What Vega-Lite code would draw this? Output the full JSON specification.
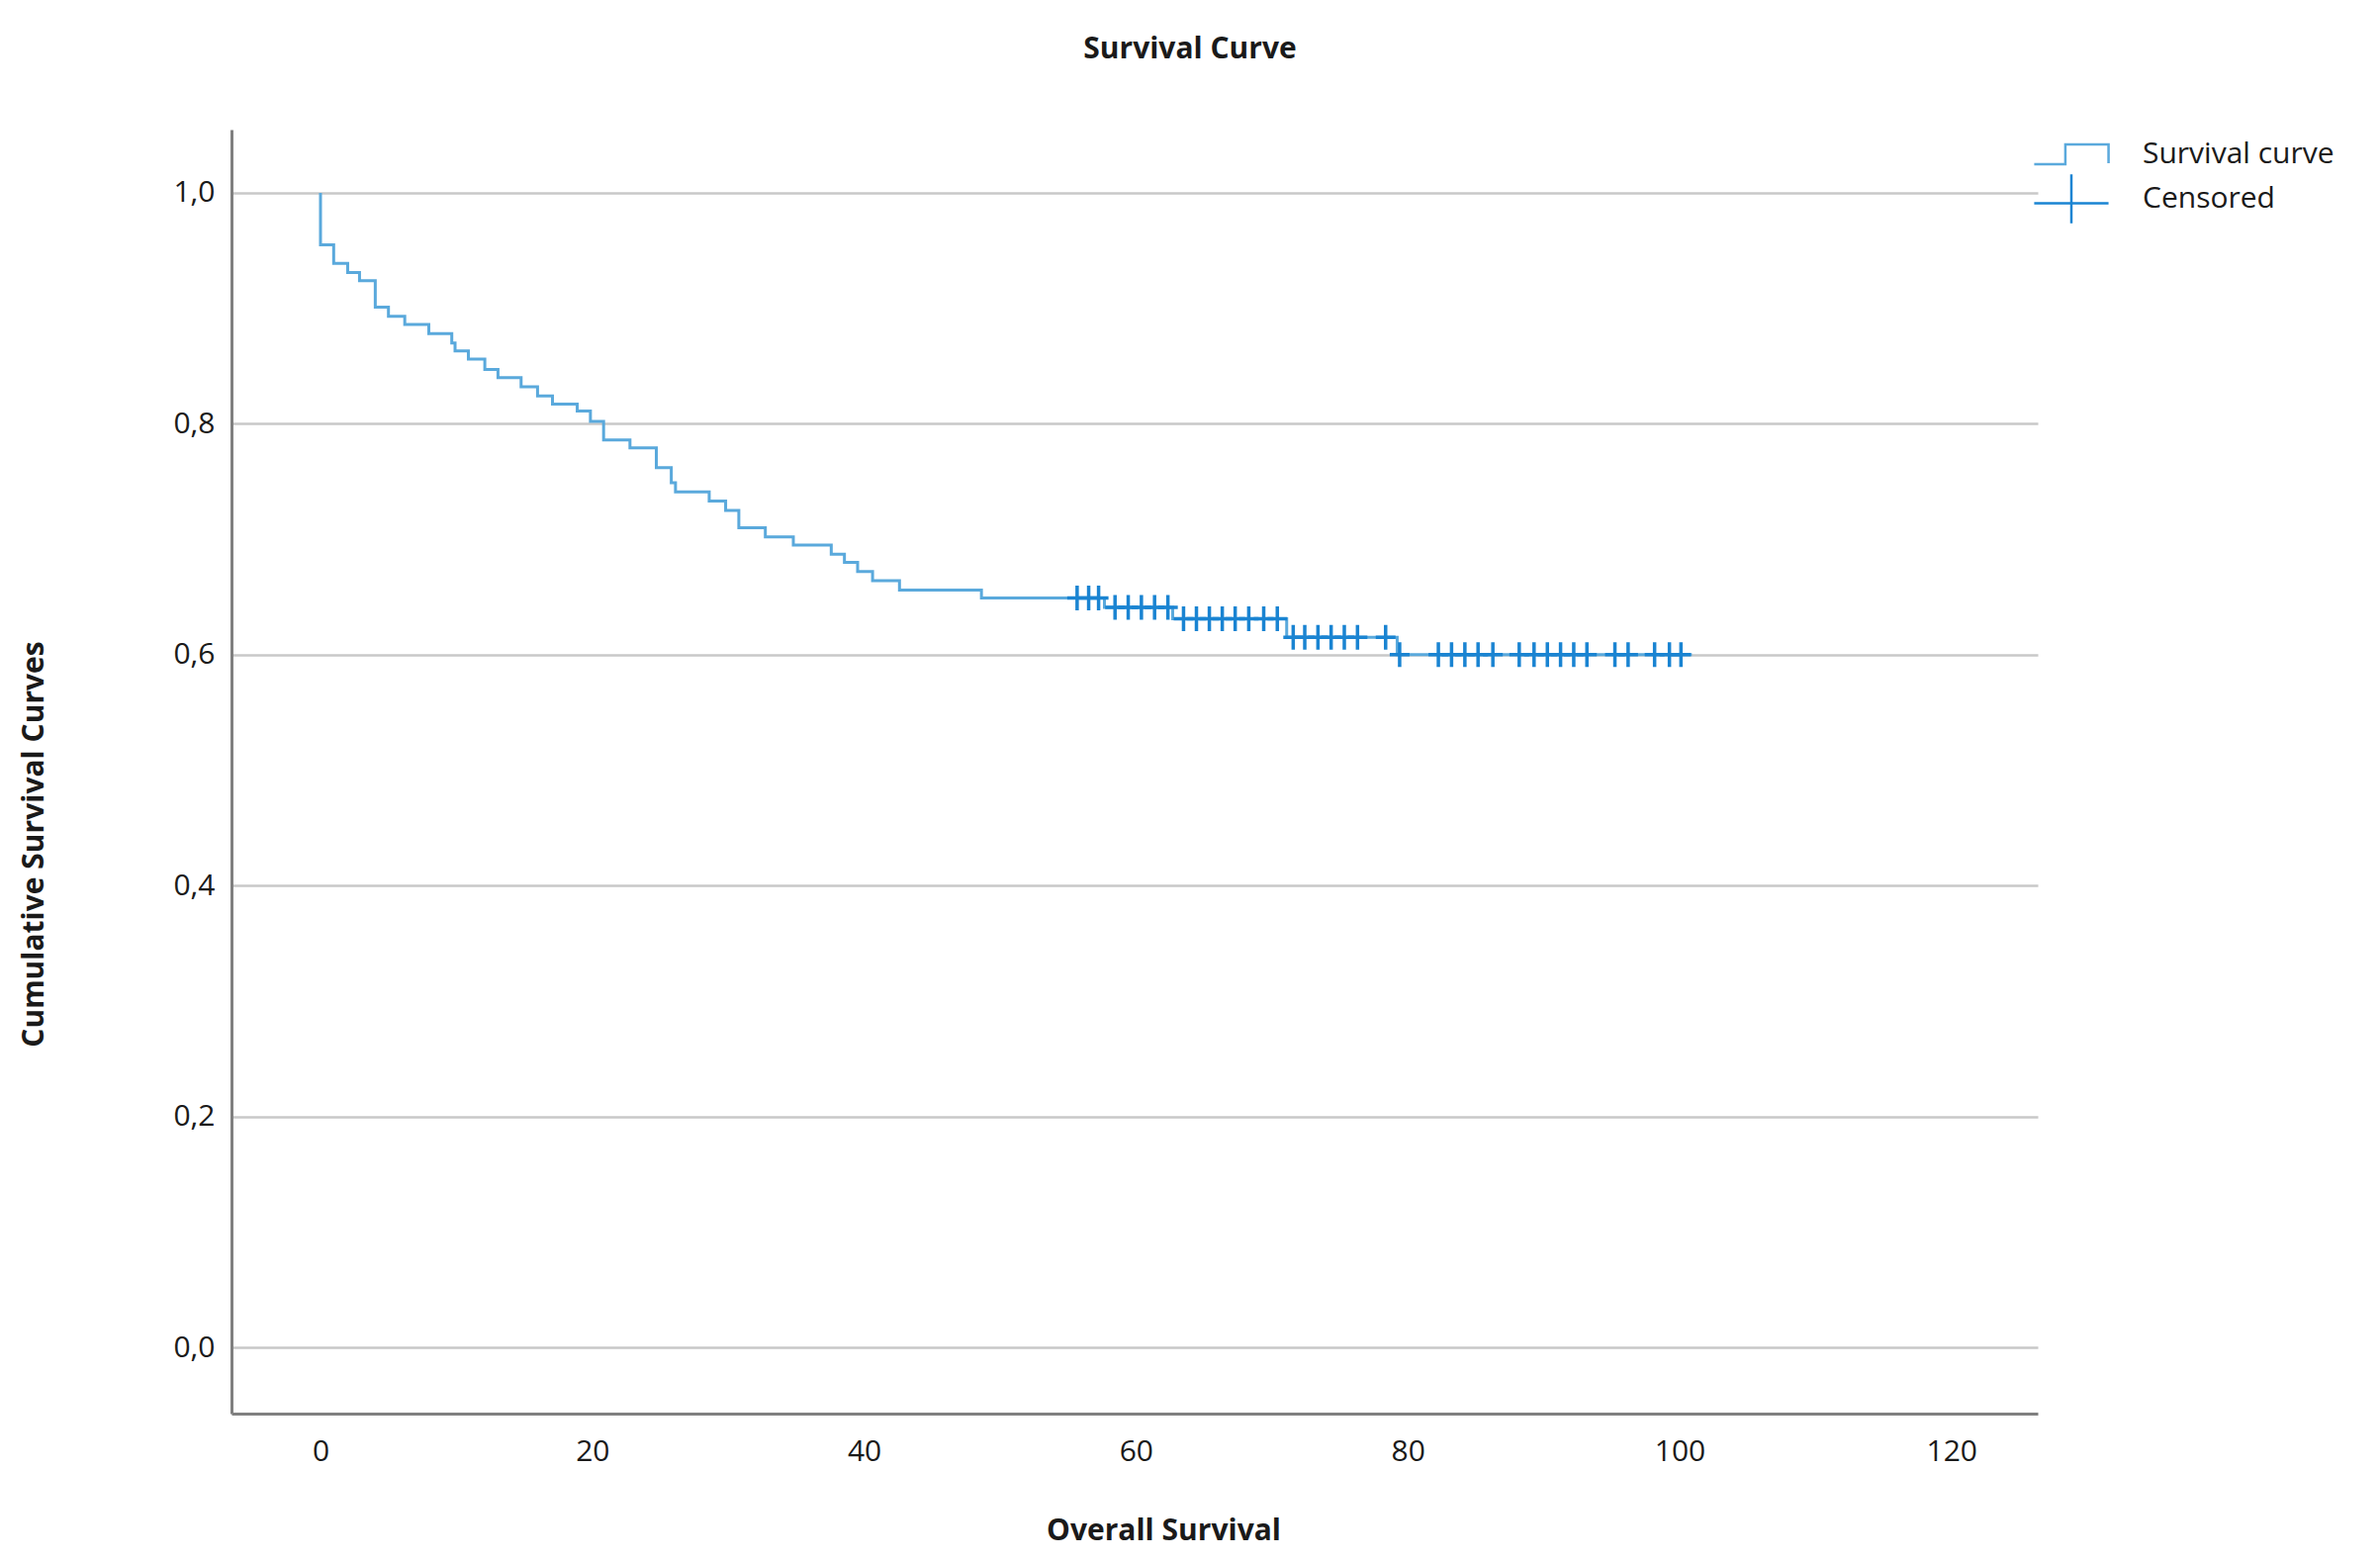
{
  "$schema": "https://vega.github.io/schema/vega-lite/v6.json",
  "width": 1826,
  "height": 1298,
  "autosize": {"type": "none"},
  "padding": {"left": 234, "top": 131, "right": 346, "bottom": 148},
  "background": "white",
  "title": {
    "text": "Survival Curve",
    "font": "Open Sans",
    "fontSize": 30,
    "fontWeight": "bold",
    "color": "#1a1a1a",
    "anchor": "middle",
    "frame": "group",
    "dx": 56,
    "offset": 66
  },
  "datasets": {
    "steps": [
      {"t": 0, "s": 1.0},
      {"t": 0, "s": 0.955},
      {"t": 0.97, "s": 0.939},
      {"t": 2.0, "s": 0.931},
      {"t": 2.87, "s": 0.924},
      {"t": 4.03, "s": 0.901},
      {"t": 5.0, "s": 0.893},
      {"t": 6.2, "s": 0.886},
      {"t": 7.97, "s": 0.878},
      {"t": 9.66, "s": 0.870},
      {"t": 9.9, "s": 0.863},
      {"t": 10.88, "s": 0.856},
      {"t": 12.09, "s": 0.847},
      {"t": 13.06, "s": 0.840},
      {"t": 14.76, "s": 0.832},
      {"t": 15.97, "s": 0.824},
      {"t": 17.07, "s": 0.817},
      {"t": 18.89, "s": 0.811},
      {"t": 19.86, "s": 0.802},
      {"t": 20.83, "s": 0.786},
      {"t": 22.77, "s": 0.779},
      {"t": 24.71, "s": 0.762},
      {"t": 25.81, "s": 0.749},
      {"t": 26.12, "s": 0.741},
      {"t": 28.6, "s": 0.733},
      {"t": 29.81, "s": 0.725},
      {"t": 30.78, "s": 0.710},
      {"t": 32.73, "s": 0.702},
      {"t": 34.79, "s": 0.695},
      {"t": 37.58, "s": 0.687},
      {"t": 38.55, "s": 0.680},
      {"t": 39.52, "s": 0.672},
      {"t": 40.62, "s": 0.664},
      {"t": 42.6, "s": 0.656},
      {"t": 48.63, "s": 0.649},
      {"t": 57.68, "s": 0.641},
      {"t": 62.7, "s": 0.631},
      {"t": 71.09, "s": 0.615},
      {"t": 79.22, "s": 0.600},
      {"t": 100.9, "s": 0.600}
    ],
    "censored": [
      {"t": 55.67, "s": 0.649},
      {"t": 56.52, "s": 0.649},
      {"t": 57.25, "s": 0.649},
      {"t": 58.46, "s": 0.641},
      {"t": 59.43, "s": 0.641},
      {"t": 60.4, "s": 0.641},
      {"t": 61.37, "s": 0.641},
      {"t": 62.35, "s": 0.641},
      {"t": 63.5, "s": 0.631},
      {"t": 64.45, "s": 0.631},
      {"t": 65.4, "s": 0.631},
      {"t": 66.35, "s": 0.631},
      {"t": 67.3, "s": 0.631},
      {"t": 68.3, "s": 0.631},
      {"t": 69.4, "s": 0.631},
      {"t": 70.4, "s": 0.631},
      {"t": 71.57, "s": 0.615},
      {"t": 72.42, "s": 0.615},
      {"t": 73.39, "s": 0.615},
      {"t": 74.36, "s": 0.615},
      {"t": 75.33, "s": 0.615},
      {"t": 76.3, "s": 0.615},
      {"t": 78.37, "s": 0.615},
      {"t": 79.4, "s": 0.600},
      {"t": 82.25, "s": 0.600},
      {"t": 83.22, "s": 0.600},
      {"t": 84.2, "s": 0.600},
      {"t": 85.17, "s": 0.600},
      {"t": 86.26, "s": 0.600},
      {"t": 88.2, "s": 0.600},
      {"t": 89.29, "s": 0.600},
      {"t": 90.27, "s": 0.600},
      {"t": 91.24, "s": 0.600},
      {"t": 92.21, "s": 0.600},
      {"t": 93.18, "s": 0.600},
      {"t": 95.24, "s": 0.600},
      {"t": 96.21, "s": 0.600},
      {"t": 98.16, "s": 0.600},
      {"t": 99.25, "s": 0.600},
      {"t": 100.1, "s": 0.600}
    ]
  },
  "encoding": {
    "x": {
      "field": "t",
      "type": "quantitative",
      "scale": {"domain": [-6.55, 126.35], "nice": false, "zero": false},
      "axis": {
        "title": "Overall Survival",
        "values": [0, 20, 40, 60, 80, 100, 120],
        "grid": false,
        "ticks": false,
        "tickSize": 0,
        "labelPadding": 38,
        "labelBaseline": "middle",
        "labelFont": "Open Sans",
        "labelFontSize": 30,
        "labelColor": "#1a1a1a",
        "domainColor": "#808080",
        "domainWidth": 3,
        "titleFont": "Open Sans",
        "titleFontSize": 30,
        "titleFontWeight": "bold",
        "titleColor": "#1a1a1a",
        "titleX": 942,
        "titleY": 118,
        "titleBaseline": "middle",
        "titleAlign": "center"
      }
    },
    "y": {
      "field": "s",
      "type": "quantitative",
      "scale": {"domain": [-0.0574, 1.0548], "nice": false, "zero": false},
      "axis": {
        "title": "Cumulative Survival Curves",
        "values": [0, 0.2, 0.4, 0.6, 0.8, 1.0],
        "format": ".1f",
        "labelExpr": "replace(datum.label, '.', ',')",
        "grid": true,
        "gridColor": "#c8c8c8",
        "gridWidth": 2.5,
        "ticks": false,
        "tickSize": 0,
        "labelPadding": 17,
        "labelFont": "Open Sans",
        "labelFontSize": 30,
        "labelColor": "#1a1a1a",
        "domainColor": "#808080",
        "domainWidth": 3,
        "titleFont": "Open Sans",
        "titleFontSize": 30,
        "titleFontWeight": "bold",
        "titleColor": "#1a1a1a",
        "titleX": -200,
        "titleY": 722,
        "titleAngle": -90,
        "titleBaseline": "middle",
        "titleAlign": "center"
      }
    }
  },
  "layer": [
    {
      "data": {"name": "steps"},
      "mark": {"type": "line", "interpolate": "step-after", "strokeWidth": 3},
      "encoding": {
        "color": {
          "datum": "Survival curve",
          "scale": {"domain": ["Survival curve", "Censored"], "range": ["#5aa9dc", "#1a84d2"]},
          "legend": {
            "title": null,
            "orient": "none",
            "legendX": 1836,
            "legendY": 1,
            "padding": 0,
            "rowPadding": 0,
            "symbolSize": 2025,
            "labelOffset": 48,
            "labelLimit": 0,
            "labelFont": "Open Sans",
            "labelFontSize": 30,
            "labelColor": "#1a1a1a",
            "encode": {
              "symbols": {
                "update": {
                  "shape": {"signal": "datum.value === 'Censored' ? 'M-1.67,0.2H1.67M0,-1.1V1.1' : 'M-1.67,0.44H-0.27V-0.44H1.67V0.4'"},
                  "fill": {"value": "transparent"},
                  "fillOpacity": {"value": 0},
                  "stroke": {"scale": "color", "field": "value"},
                  "strokeWidth": {"value": 2.5},
                  "size": {"value": 2025},
                  "opacity": {"value": 1}
                }
              }
            }
          }
        }
      }
    },
    {
      "data": {"name": "censored"},
      "mark": {
        "type": "point",
        "shape": "M-0.8,0H0.8M0,-1V1",
        "filled": false,
        "size": 625,
        "strokeWidth": 3.5,
        "opacity": 1
      },
      "encoding": {
        "color": {"datum": "Censored"}
      }
    }
  ],
  "config": {
    "view": {"stroke": null},
    "font": "Open Sans"
  }
}
